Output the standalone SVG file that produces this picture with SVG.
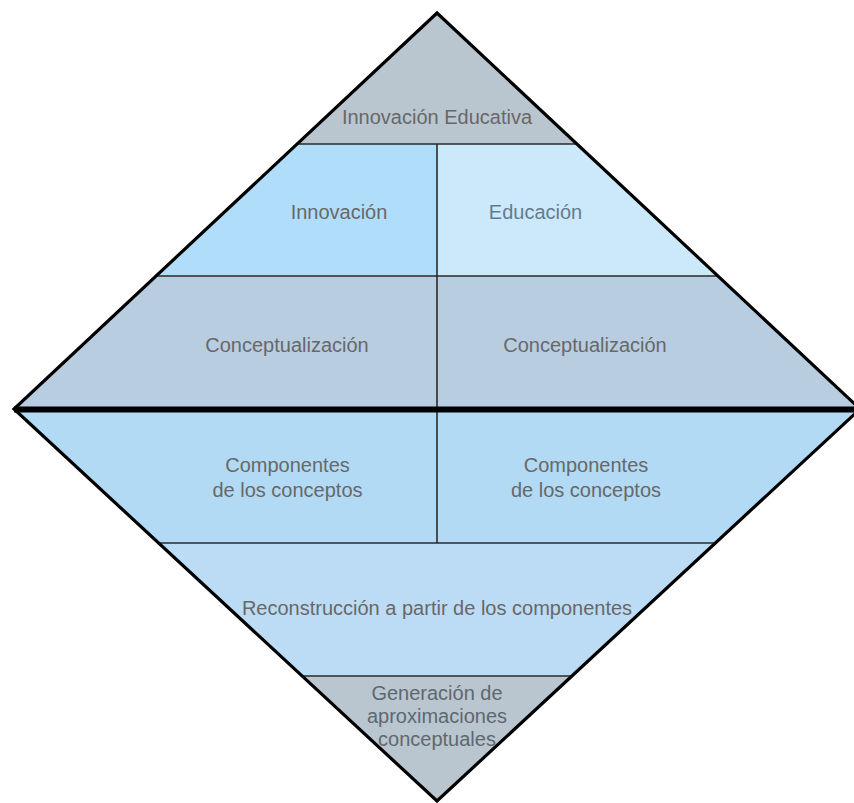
<svg xmlns="http://www.w3.org/2000/svg" width="854" height="803" viewBox="0 0 854 803">
<style>
.lbl{font-family:"Liberation Sans",Arial,Helvetica,sans-serif;font-size:20px;fill:#686868;text-anchor:middle}
.thin{stroke:#2a2a2a;stroke-width:1.6;fill:none}
.outline{stroke:#000;stroke-width:3.2;fill:none;stroke-linejoin:miter}
</style>
<rect width="854" height="803" fill="#fff"/>
<g id="n-innovacion-educativa">
<polygon points="437,13 576.9,144 297.1,144" fill="#b9c5cf"/>
<text class="lbl" x="437" y="124">Innovación Educativa</text>
</g>
<g id="n-innovacion">
<polygon points="297.1,144 437,144 437,276 156.1,276" fill="#b0defa"/>
<text class="lbl" x="339" y="219">Innovación</text>
</g>
<g id="n-educacion">
<polygon points="437,144 576.9,144 717.9,276 437,276" fill="#cce9fc"/>
<text class="lbl" x="535.5" y="219" style="fill:#647b8d">Educación</text>
</g>
<g id="n-conceptualizacion-1">
<polygon points="156.1,276 437,276 437,409 14,409" fill="#b8cde0"/>
<text class="lbl" x="287" y="352">Conceptualización</text>
</g>
<g id="n-conceptualizacion-2">
<polygon points="437,276 717.9,276 860,409 437,409" fill="#b8cde0"/>
<text class="lbl" x="585" y="352">Conceptualización</text>
</g>
<g id="n-componentes-1">
<polygon points="14,409 437,409 437,543 158.6,543" fill="#b2daf4"/>
<text class="lbl" x="287.5" y="472">Componentes</text>
<text class="lbl" x="287.5" y="497">de los conceptos</text>
</g>
<g id="n-componentes-2">
<polygon points="437,409 860,409 715.4,543 437,543" fill="#b2daf4"/>
<text class="lbl" x="586" y="472">Componentes</text>
<text class="lbl" x="586" y="497">de los conceptos</text>
</g>
<g id="n-reconstruccion">
<polygon points="158.6,543 715.4,543 571.9,676 302.1,676" fill="#bcdcf5"/>
<text class="lbl" x="437" y="615">Reconstrucción a partir de los componentes</text>
</g>
<g id="n-generacion">
<polygon points="302.1,676 571.9,676 437,801" fill="#b9c5cf"/>
<text class="lbl" x="437" y="700" style="fill:#5f6870">Generación de</text>
<text class="lbl" x="437" y="723" style="fill:#5f6870">aproximaciones</text>
<text class="lbl" x="437" y="746" style="fill:#5f6870">conceptuales</text>
</g>
<g id="connectors">
<line class="thin" x1="297.1" y1="144" x2="576.9" y2="144"/>
<line class="thin" x1="156.1" y1="276" x2="717.9" y2="276"/>
<line class="thin" x1="158.6" y1="543" x2="715.4" y2="543"/>
<line class="thin" x1="302.1" y1="676" x2="571.9" y2="676"/>
<line class="thin" x1="437" y1="144" x2="437" y2="543"/>
<line x1="14" y1="409.5" x2="860" y2="409.5" stroke="#000" stroke-width="6"/>
<polygon class="outline" points="437,13 860,409 437,801 14,409"/>
</g>
</svg>
